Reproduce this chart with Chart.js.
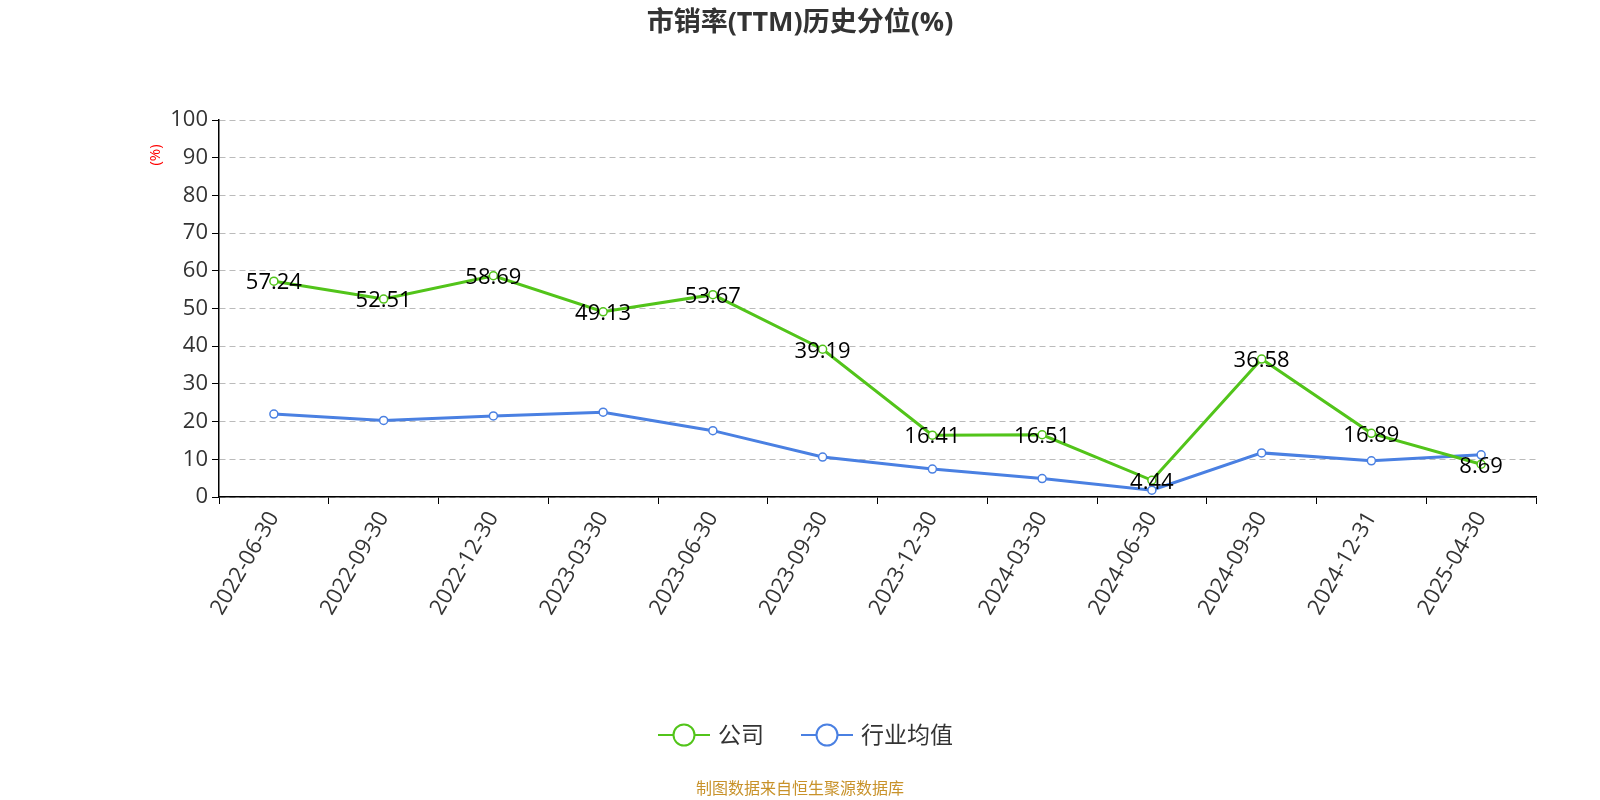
<!DOCTYPE html><html><head><meta charset="utf-8">
<script src="https://cdn.jsdelivr.net/npm/chart.js@4"></script>
<style>body{margin:0;background:#fff}#w{width:1600px;height:800px}</style></head><body><div id="w"><canvas id="c"></canvas></div>
<script>
const categories=["2022-06-30","2022-09-30","2022-12-30","2023-03-30","2023-06-30","2023-09-30","2023-12-30","2024-03-30","2024-06-30","2024-09-30","2024-12-31","2025-04-30"];
const companyValues=[57.24,52.51,58.69,49.13,53.67,39.19,16.41,16.51,4.44,36.58,16.89,8.69];
const industryValues=[22.0,20.3,21.5,22.5,17.6,10.6,7.4,4.9,1.8,11.7,9.6,11.2];
const yTicks=[0,10,20,30,40,50,60,70,80,90,100];
const F='"Open Sans","Noto Sans CJK SC",sans-serif';
const deco={id:'deco',afterDraw(ch){const c=ch.ctx;c.save();
c.fillStyle='#333';c.font='bold 27px '+F;c.textAlign='center';c.textBaseline='middle';c.fillText('市销率(TTM)历史分位(%)',800,23);
const m=ch.getDatasetMeta(0);c.font='22px '+F;c.fillStyle='#000';
m.data.forEach((p,i)=>c.fillText(companyValues[i].toFixed(2),p.x,p.y+2));
c.save();c.translate(156,155);c.rotate(-Math.PI/2);c.fillStyle='red';c.font='15px '+F;c.fillText('(%)',0,0);c.restore();
const L=[['公司','#52c41a',658],['行业均值','#4a80e2',801]];
c.font='23px '+F;c.textAlign='left';
L.forEach(([t,col,x])=>{c.strokeStyle=col;c.lineWidth=2;c.beginPath();c.moveTo(x,735);c.lineTo(x+52,735);c.stroke();c.beginPath();c.arc(x+26,735,10.5,0,Math.PI*2);c.fillStyle='#fff';c.fill();c.stroke();c.fillStyle='#333';c.fillText(t,x+60,736);});
c.textAlign='center';c.font='16px '+F;c.fillStyle='#c8922a';c.fillText('制图数据来自恒生聚源数据库',800,789);
c.restore();}};
new Chart(document.getElementById('c'),{type:'line',data:{labels:categories,datasets:[
{label:'公司',data:companyValues,borderColor:'#52c41a',backgroundColor:'#fff',borderWidth:3,pointRadius:4,pointBorderWidth:1.5,tension:0},
{label:'行业均值',data:industryValues,borderColor:'#4a80e2',backgroundColor:'#fff',borderWidth:3,pointRadius:4,pointBorderWidth:1.5,tension:0}]},
options:{responsive:true,maintainAspectRatio:false,animation:false,layout:{padding:{left:0,right:64,top:120,bottom:143}},
plugins:{legend:{display:false},title:{display:false},tooltip:{enabled:false}},
scales:{x:{offset:true,afterFit(s){s.height=160},grid:{display:true,drawOnChartArea:false,offset:true,color:'#000',tickLength:7},border:{color:'#000',width:1.5},
ticks:{color:'#333',font:{size:22,family:F},maxRotation:60,minRotation:60,autoSkip:false}},
y:{min:0,max:100,afterFit(s){s.width=219},afterBuildTicks(s){s.ticks=yTicks.map(v=>({value:v}))},border:{color:'#000',width:1.5,dash:[6,4]},
grid:{color:'#bbb',tickLength:7,tickColor:'#000'},ticks:{color:'#333',font:{size:22,family:F},padding:4}}}},plugins:[deco]});
</script></body></html>
